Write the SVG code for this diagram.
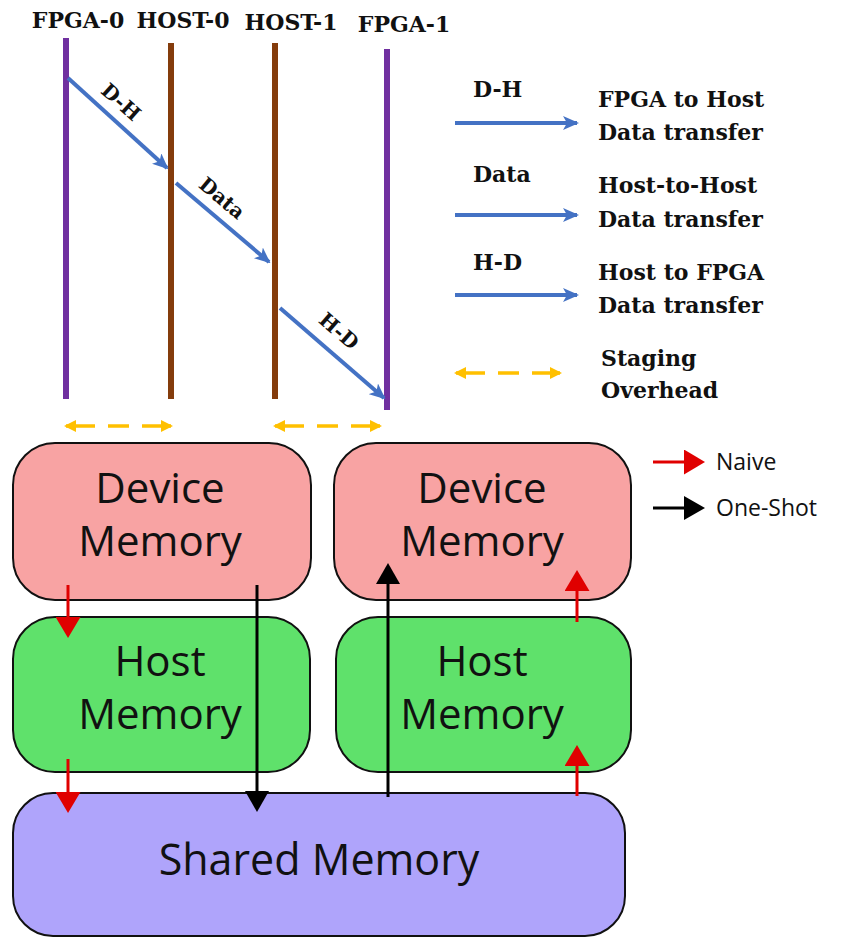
<svg xmlns="http://www.w3.org/2000/svg" width="845" height="938" viewBox="0 0 845 938">
  <style>
    .slab { font-family: "DejaVu Serif", "Liberation Serif", serif; font-weight: bold; fill: #111; }
    .hdr { font-size: 22px; }
    .lgd { font-size: 22px; }
    .tag { font-size: 20px; }
    .sans { font-family: "Open Sans", "Noto Sans", sans-serif; fill: #111; }
    .big { font-size: 42px; }
    .wide { font-size: 43px; }
    .small { font-size: 23px; }
    .fpga { stroke: #7030A0; stroke-width: 6; }
    .host { stroke: #843C0C; stroke-width: 6; }
    .xfer { stroke: #4472C4; stroke-width: 4; fill: none; marker-end: url(#blueHead); }
    .stage { stroke: #FFC000; stroke-width: 3.5; fill: none; stroke-dasharray: 29 13 21 13 29; marker-start: url(#orangeHead); marker-end: url(#orangeHead); }
    .box { stroke: #111; stroke-width: 2; }
    .dev { fill: #F8A3A3; }
    .hmem { fill: #5FE16B; }
    .shm { fill: #AFA4FB; }
    .naive { stroke: #E00000; stroke-width: 3; fill: none; marker-end: url(#redHead); }
    .oneshot { stroke: #000; stroke-width: 3; fill: none; marker-end: url(#blackHead); }
  </style>
  <defs>
    <marker id="blueHead" markerUnits="userSpaceOnUse" viewBox="0 0 16 14" refX="14" refY="7" markerWidth="16" markerHeight="14" orient="auto">
      <path d="M0,0 L16,7 L0,14 L4,7 z" fill="#4472C4"/>
    </marker>
    <marker id="orangeHead" markerUnits="userSpaceOnUse" viewBox="0 0 12 12" refX="10" refY="6" markerWidth="12" markerHeight="12" orient="auto-start-reverse">
      <path d="M0,0 L12,6 L0,12 z" fill="#FFC000"/>
    </marker>
    <marker id="redHead" markerUnits="userSpaceOnUse" viewBox="0 0 21 25" refX="0" refY="12.5" markerWidth="21" markerHeight="25" orient="auto">
      <path d="M0,0 L21,12.5 L0,25 z" fill="#E00000"/>
    </marker>
    <marker id="blackHead" markerUnits="userSpaceOnUse" viewBox="0 0 21 24" refX="0" refY="12" markerWidth="21" markerHeight="24" orient="auto">
      <path d="M0,0 L21,12 L0,24 z" fill="#000"/>
    </marker>
  </defs>

  <!-- timeline headers -->
  <g id="timeline-headers">
    <text class="slab hdr" x="78" y="28" text-anchor="middle">FPGA-0</text>
    <text class="slab hdr" x="183" y="28" text-anchor="middle">HOST-0</text>
    <text class="slab hdr" x="291" y="30" text-anchor="middle">HOST-1</text>
    <text class="slab hdr" x="404" y="32" text-anchor="middle">FPGA-1</text>
  </g>

  <!-- timelines -->
  <g id="fpga0"><line class="fpga" x1="66" y1="38" x2="66" y2="399"/></g>
  <g id="host0"><line class="host" x1="171" y1="43" x2="171" y2="399"/></g>
  <g id="host1"><line class="host" x1="275" y1="43" x2="275" y2="399"/></g>
  <g id="fpga1"><line class="fpga" x1="387" y1="49" x2="387" y2="410"/></g>

  <!-- transfers between timelines -->
  <g id="transfers">
    <line class="xfer" x1="68" y1="78" x2="167" y2="168"/>
    <line class="xfer" x1="176" y1="183" x2="269" y2="262"/>
    <line class="xfer" x1="280" y1="308" x2="384" y2="398"/>
    <text class="slab tag" transform="translate(121,102) rotate(42)" text-anchor="middle" dominant-baseline="central">D-H</text>
    <text class="slab tag" transform="translate(222,198) rotate(40)" text-anchor="middle" dominant-baseline="central">Data</text>
    <text class="slab tag" transform="translate(339,331) rotate(41)" text-anchor="middle" dominant-baseline="central">H-D</text>
  </g>

  <!-- staging overhead spans -->
  <g id="staging">
    <line class="stage" x1="66" y1="426" x2="171" y2="426"/>
    <line class="stage" x1="275" y1="426" x2="380" y2="426"/>
  </g>

  <!-- transfer legend -->
  <g id="legend-transfers">
    <text class="slab lgd" x="473" y="97">D-H</text>
    <line class="xfer" x1="455" y1="123" x2="577" y2="123"/>
    <text class="slab lgd" x="598" y="107">FPGA to Host</text>
    <text class="slab lgd" x="598" y="140">Data transfer</text>

    <text class="slab lgd" x="473" y="182">Data</text>
    <line class="xfer" x1="455" y1="215" x2="577" y2="215"/>
    <text class="slab lgd" x="598" y="193">Host-to-Host</text>
    <text class="slab lgd" x="598" y="227">Data transfer</text>

    <text class="slab lgd" x="473" y="270">H-D</text>
    <line class="xfer" x1="455" y1="295" x2="577" y2="295"/>
    <text class="slab lgd" x="598" y="280">Host to FPGA</text>
    <text class="slab lgd" x="598" y="313">Data transfer</text>

    <line class="stage" x1="456" y1="373" x2="560" y2="373"/>
    <text class="slab lgd" x="601" y="366">Staging</text>
    <text class="slab lgd" x="601" y="398">Overhead</text>
  </g>

  <!-- memory blocks -->
  <g id="device-mem-0">
    <rect class="box dev" x="13" y="443" width="298" height="157" rx="42"/>
    <text class="sans big" x="160" y="503" text-anchor="middle">Device</text>
    <text class="sans big" x="160" y="556" text-anchor="middle">Memory</text>
  </g>
  <g id="device-mem-1">
    <rect class="box dev" x="334" y="443" width="297" height="157" rx="42"/>
    <text class="sans big" x="482" y="503" text-anchor="middle">Device</text>
    <text class="sans big" x="482" y="556" text-anchor="middle">Memory</text>
  </g>
  <g id="host-mem-0">
    <rect class="box hmem" x="13" y="617" width="297" height="155" rx="42"/>
    <text class="sans big" x="160" y="676" text-anchor="middle">Host</text>
    <text class="sans big" x="160" y="729" text-anchor="middle">Memory</text>
  </g>
  <g id="host-mem-1">
    <rect class="box hmem" x="336" y="617" width="295" height="155" rx="42"/>
    <text class="sans big" x="482" y="676" text-anchor="middle">Host</text>
    <text class="sans big" x="482" y="729" text-anchor="middle">Memory</text>
  </g>
  <g id="shared-mem">
    <rect class="box shm" x="13" y="793" width="612" height="143" rx="40"/>
    <text class="sans wide" x="319" y="875" text-anchor="middle">Shared Memory</text>
  </g>

  <!-- copy paths between memories -->
  <g id="copy-paths">
    <line class="naive" x1="68" y1="585" x2="68" y2="617"/>
    <line class="naive" x1="68" y1="759" x2="68" y2="792"/>
    <line class="oneshot" x1="257" y1="585" x2="257" y2="791"/>
    <line class="oneshot" x1="388" y1="797" x2="388" y2="584"/>
    <line class="naive" x1="577" y1="622" x2="577" y2="591"/>
    <line class="naive" x1="577" y1="796" x2="577" y2="766"/>
  </g>

  <!-- copy path legend -->
  <g id="legend-copy">
    <line class="naive" x1="653" y1="462" x2="684" y2="462"/>
    <text class="sans small" x="716" y="470">Naive</text>
    <line class="oneshot" x1="653" y1="508" x2="684" y2="508"/>
    <text class="sans small" x="716" y="516">One-Shot</text>
  </g>
</svg>
